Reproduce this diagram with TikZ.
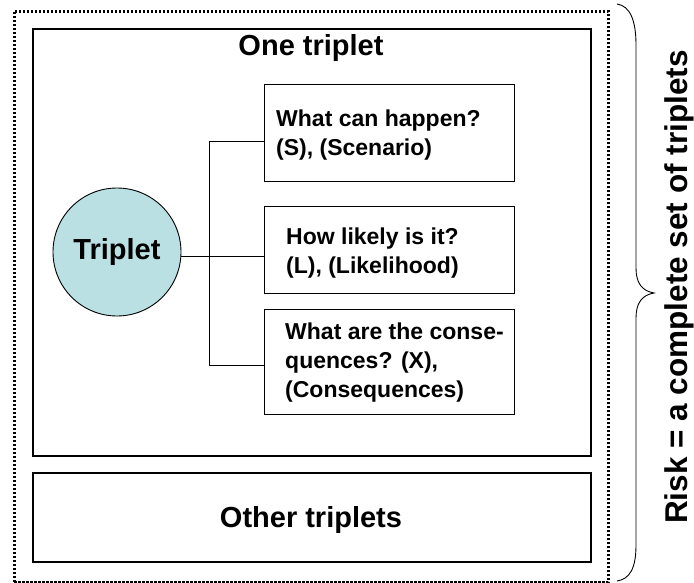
\documentclass[tikz,border=0pt]{standalone}
\usepackage{fontspec}
\setmainfont{Liberation Sans}
\definecolor{tripfill}{RGB}{186,224,228}
\begin{document}
\begin{tikzpicture}[x=1pt,y=-1pt,
  bigframe/.style={draw, line width=2.4pt, inner sep=0pt, anchor=north west},
  dotframe/.style={draw, line width=2.6pt, dash pattern=on 2.2pt off 1.8pt, inner sep=0pt, anchor=north west},
  qbox/.style={draw, line width=1.2pt, inner sep=0pt, anchor=north west, minimum width=250pt},
  qtext/.style={anchor=west, align=left, inner sep=0pt, font=\fontsize{23}{29}\selectfont\bfseries},
  headtext/.style={anchor=base, inner sep=0pt, font=\fontsize{29}{34}\selectfont\bfseries},
  conn/.style={draw, line width=0.9pt}]
\useasboundingbox (0,0) rectangle (694,583);
% frames
\node[dotframe, minimum width=594pt, minimum height=571pt] (outer) at (13,10) {};
\node[bigframe, minimum width=558pt, minimum height=427pt] (one) at (32,28) {};
\node[bigframe, minimum width=558pt, minimum height=89pt] (other) at (32,472) {};
% titles
\node[headtext] (onet) at (311,56) {One triplet};
\node[headtext] (othert) at (311,527) {Other triplets};
% circle
\node[circle, draw, line width=0.9pt, fill=tripfill, minimum size=128pt, inner sep=0pt,
      font=\fontsize{29}{34}\selectfont\bfseries] (c) at (117,252) {Triplet};
% question boxes
\node[qbox, minimum height=97pt] (b1) at (264,84) {};
\node[qbox, minimum height=87pt] (b2) at (264,206) {};
\node[qbox, minimum height=105pt] (b3) at (264,309) {};
\node[qtext] (t1) at ([xshift=12pt,yshift=-2pt]b1.west) {What can happen?\\(S), (Scenario)};
\node[qtext] (t2) at ([xshift=22pt,yshift=-3pt]b2.west) {How likely is it?\\(L), (Likelihood)};
\node[qtext] (t3) at ([xshift=21pt]b3.west) {What are the conse-\\quences? (X),\\(Consequences)};
% connectors
\coordinate (jt) at (209,141);
\coordinate (jm) at (209,256);
\coordinate (jb) at (209,365);
\draw[conn] (jt) -- (jb);
\draw[conn] (c.east |- jm) -- (b2.west |- jm);
\draw[conn] (jt) -- (b1.west |- jt);
\draw[conn] (jb) -- (b3.west |- jb);
% brace
\coordinate (br1) at (617,4);
\coordinate (brt) at (654,293);
\coordinate (br2) at (617,581);
\draw[line width=0.9pt] (br1) .. controls (630,6) and (636,20) .. (636,45) -- (636,268)
  .. controls (636,283) and (642,291) .. (brt)
  .. controls (642,295) and (636,303) .. (636,318) -- (636,545)
  .. controls (636,568) and (630,579) .. (br2);
% side label
\node[rotate=90, anchor=base, inner sep=0pt, font=\fontsize{31.5}{38}\selectfont\bfseries] (risk) at (687,287) {Risk = a complete set of triplets};
\end{tikzpicture}
\end{document}
